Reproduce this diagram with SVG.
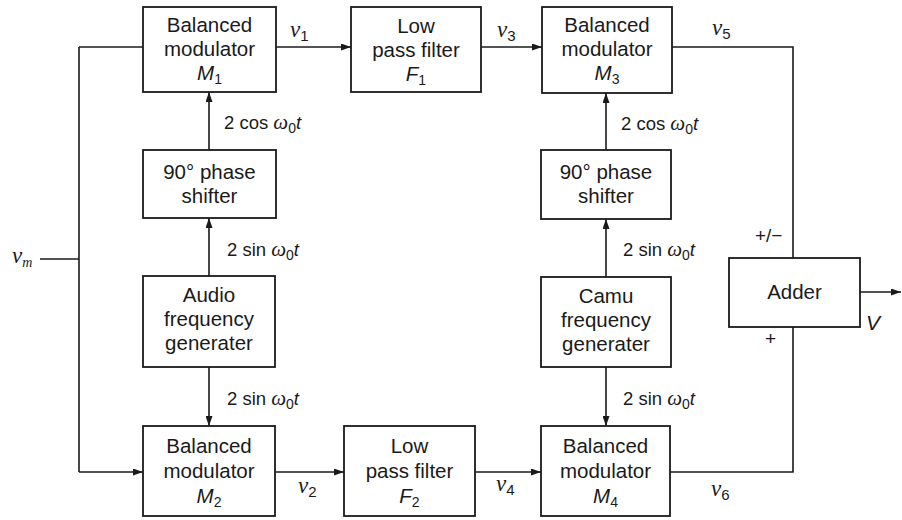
<svg xmlns="http://www.w3.org/2000/svg" width="902" height="520" viewBox="0 0 902 520">
<defs>
<marker id="arr" viewBox="0 0 10 7" refX="10" refY="3.5" markerWidth="10" markerHeight="7" markerUnits="userSpaceOnUse" orient="auto">
<path d="M0,0 L10,3.5 L0,7 z" fill="#1a1a1a"/>
</marker>
</defs>
<style>
.box{fill:#fff;stroke:#1a1a1a;stroke-width:1.8}
.t{font-family:"Liberation Sans",Arial,sans-serif;font-size:20.5px;fill:#1a1a1a;text-anchor:middle}
.lb{font-family:"Liberation Sans",Arial,sans-serif;font-size:18.5px;fill:#1a1a1a}
.v{font-family:"Liberation Serif","Times New Roman",serif;font-style:italic;font-size:23px;fill:#1a1a1a}
.w{font-family:"Liberation Serif","Times New Roman",serif;font-style:italic;font-size:21px}
.sub{font-size:14px}
.vs{font-family:"Liberation Sans",Arial,sans-serif;font-style:normal;font-size:15px}
.it{font-style:italic}
.c{fill:none;stroke:#1a1a1a;stroke-width:1.6}
.ca{fill:none;stroke:#1a1a1a;stroke-width:1.6;marker-end:url(#arr)}
</style>
<rect width="902" height="520" fill="#fff"/>

<g id="connectors">
<path class="c" d="M40,259 H79"/>
<path class="c" d="M79,47 V472"/>
<path class="c" d="M79,47 H143"/>
<path class="ca" d="M79,472 H143"/>
<path class="ca" d="M276,47 H351"/>
<path class="ca" d="M481,47 H542"/>
<path class="c" d="M672,47 H793 V258"/>
<path class="ca" d="M209,150 V92"/>
<path class="ca" d="M209,276 V218"/>
<path class="ca" d="M209,367 V426"/>
<path class="ca" d="M606,150 V93"/>
<path class="ca" d="M606,277 V219"/>
<path class="ca" d="M606,367 V426"/>
<path class="ca" d="M275,472 H344"/>
<path class="ca" d="M475,472 H541"/>
<path class="c" d="M670,472 H793 V327"/>
<path class="ca" d="M860,292 H901"/>
</g>

<g id="M1">
<rect class="box" x="143" y="7" width="133" height="85"/>
<text class="t" x="209.5" y="32">Balanced</text>
<text class="t" x="209.5" y="56">modulator</text>
<text class="t" x="209.5" y="80"><tspan class="it">M</tspan><tspan class="sub" dy="4">1</tspan></text>
</g>
<g id="F1">
<rect class="box" x="351" y="7" width="130" height="85"/>
<text class="t" x="416" y="33">Low</text>
<text class="t" x="416" y="57">pass filter</text>
<text class="t" x="416" y="81"><tspan class="it">F</tspan><tspan class="sub" dy="4">1</tspan></text>
</g>
<g id="M3">
<rect class="box" x="542" y="7" width="130" height="86"/>
<text class="t" x="607" y="32">Balanced</text>
<text class="t" x="607" y="56">modulator</text>
<text class="t" x="607" y="80"><tspan class="it">M</tspan><tspan class="sub" dy="4">3</tspan></text>
</g>
<g id="PS1">
<rect class="box" x="143" y="150" width="133" height="68"/>
<text class="t" x="209.5" y="179">90° phase</text>
<text class="t" x="209.5" y="203">shifter</text>
</g>
<g id="PS2">
<rect class="box" x="541" y="150" width="130" height="69"/>
<text class="t" x="606" y="179">90° phase</text>
<text class="t" x="606" y="203">shifter</text>
</g>
<g id="AG">
<rect class="box" x="143" y="276" width="132" height="91"/>
<text class="t" x="209" y="302">Audio</text>
<text class="t" x="209" y="326">frequency</text>
<text class="t" x="209" y="350">generater</text>
</g>
<g id="CG">
<rect class="box" x="541" y="277" width="130" height="90"/>
<text class="t" x="606" y="303">Camu</text>
<text class="t" x="606" y="327">frequency</text>
<text class="t" x="606" y="351">generater</text>
</g>
<g id="M2">
<rect class="box" x="143" y="426" width="132" height="90"/>
<text class="t" x="209" y="453">Balanced</text>
<text class="t" x="209" y="478">modulator</text>
<text class="t" x="209" y="503"><tspan class="it">M</tspan><tspan class="sub" dy="4">2</tspan></text>
</g>
<g id="F2">
<rect class="box" x="344" y="426" width="131" height="90"/>
<text class="t" x="409.5" y="453">Low</text>
<text class="t" x="409.5" y="478">pass filter</text>
<text class="t" x="409.5" y="503"><tspan class="it">F</tspan><tspan class="sub" dy="4">2</tspan></text>
</g>
<g id="M4">
<rect class="box" x="541" y="426" width="129" height="90"/>
<text class="t" x="605.5" y="453">Balanced</text>
<text class="t" x="605.5" y="478">modulator</text>
<text class="t" x="605.5" y="503"><tspan class="it">M</tspan><tspan class="sub" dy="4">4</tspan></text>
</g>
<g id="Adder">
<rect class="box" x="729" y="258" width="131" height="69"/>
<text class="t" x="794.5" y="299">Adder</text>
</g>

<g id="labels">
<text class="v" x="12" y="263">v<tspan class="sub" dy="4">m</tspan></text>
<text class="v" x="290" y="37">v<tspan class="vs" dy="4">1</tspan></text>
<text class="v" x="497" y="37">v<tspan class="vs" dy="4">3</tspan></text>
<text class="v" x="712" y="35">v<tspan class="vs" dy="4">5</tspan></text>
<text class="v" x="298" y="493">v<tspan class="vs" dy="4">2</tspan></text>
<text class="v" x="496" y="491">v<tspan class="vs" dy="4">4</tspan></text>
<text class="v" x="711" y="496">v<tspan class="vs" dy="4">6</tspan></text>
<text class="lb" x="224" y="129">2 cos <tspan class="w">ω</tspan><tspan class="sub" dy="4">0</tspan><tspan class="it" dy="-4">t</tspan></text>
<text class="lb" x="227" y="256">2 sin <tspan class="w">ω</tspan><tspan class="sub" dy="4">0</tspan><tspan class="it" dy="-4">t</tspan></text>
<text class="lb" x="227" y="405">2 sin <tspan class="w">ω</tspan><tspan class="sub" dy="4">0</tspan><tspan class="it" dy="-4">t</tspan></text>
<text class="lb" x="621" y="130">2 cos <tspan class="w">ω</tspan><tspan class="sub" dy="4">0</tspan><tspan class="it" dy="-4">t</tspan></text>
<text class="lb" x="623" y="256">2 sin <tspan class="w">ω</tspan><tspan class="sub" dy="4">0</tspan><tspan class="it" dy="-4">t</tspan></text>
<text class="lb" x="623" y="405">2 sin <tspan class="w">ω</tspan><tspan class="sub" dy="4">0</tspan><tspan class="it" dy="-4">t</tspan></text>
<text class="lb" x="755" y="242" style="font-size:19px">+/−</text>
<text class="lb" x="765" y="345" style="font-size:19px">+</text>
<text class="lb it" x="866" y="330" style="font-size:21px">V</text>
</g>
</svg>
